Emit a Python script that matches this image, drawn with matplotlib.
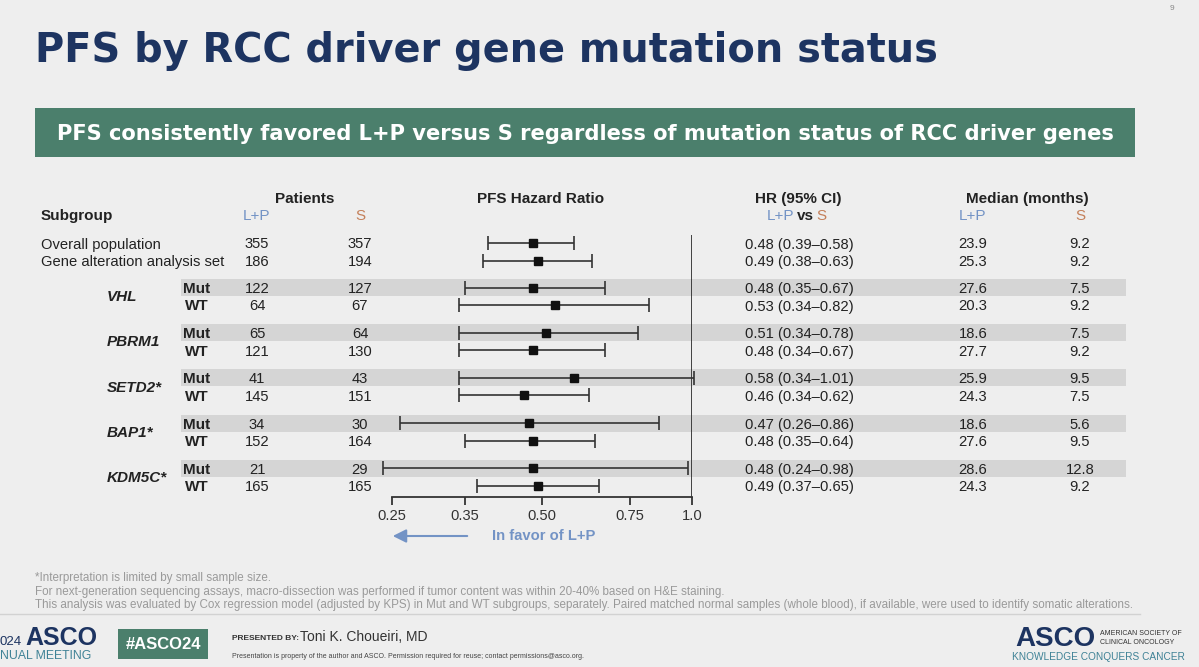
import matplotlib
matplotlib.use('Agg')
import matplotlib.pyplot as plt
from matplotlib.patches import Rectangle, FancyArrowPatch
from matplotlib.ticker import NullLocator, FixedLocator, FixedFormatter
import numpy as np

plt.rcParams['font.family'] = ['Liberation Sans', 'DejaVu Sans']

# ---------------- data ----------------
overall_labels = ["Overall population", "Gene alteration analysis set"]
genes = ["VHL", "PBRM1", "SETD2*", "BAP1*", "KDM5C*"]
statuses = ["Mut", "WT"]
n_lp = [355, 186, 122, 64, 65, 121, 41, 145, 34, 152, 21, 165]
n_s = [357, 194, 127, 67, 64, 130, 43, 151, 30, 164, 29, 165]
hr = [0.48, 0.49, 0.48, 0.53, 0.51, 0.48, 0.58, 0.46, 0.47, 0.48, 0.48, 0.49]
ci_lo = [0.39, 0.38, 0.35, 0.34, 0.34, 0.34, 0.34, 0.34, 0.26, 0.35, 0.24, 0.37]
ci_hi = [0.58, 0.63, 0.67, 0.82, 0.78, 0.67, 1.01, 0.62, 0.86, 0.64, 0.98, 0.65]
med_lp = [23.9, 25.3, 27.6, 20.3, 18.6, 27.7, 25.9, 24.3, 18.6, 27.6, 28.6, 24.3]
med_s = [9.2, 9.2, 7.5, 9.2, 7.5, 9.2, 9.5, 7.5, 5.6, 9.5, 12.8, 9.2]
x_ticks = [0.25, 0.35, 0.50, 0.75, 1.0]
x_tick_labels = ["0.25", "0.35", "0.50", "0.75", "1.0"]

footnotes = [
    "*Interpretation is limited by small sample size.",
    "For next-generation sequencing assays, macro-dissection was performed if tumor content was within 20-40% based on H&E staining.",
    "This analysis was evaluated by Cox regression model (adjusted by KPS) in Mut and WT subgroups, separately. Paired matched normal samples (whole blood), if available, were used to identify somatic alterations.",
]

# ---------------- styles ----------------
BG = '#eeeeee'
NAVY = '#1d3461'
GREEN = '#4b7f6c'
BLUE = '#7393c5'
ORANGE = '#c4805a'
BAND = '#d5d5d5'
TXT = '#222222'
GRAYTXT = '#9a9a9a'
TEAL = '#3f8296'

W, H = 1199, 667
fig = plt.figure(figsize=(W / 100, H / 100), dpi=100, facecolor=BG)
bg = fig.add_axes([0, 0, 1, 1])
bg.set_xlim(0, W)
bg.set_ylim(H, 0)
bg.axis('off')
bg.set_facecolor(BG)

# row layout (pixel positions of rows)
row_y = [243.0, 260.5]
for g in range(len(genes)):
    m = 287.5 + g * 45.2
    row_y += [m, m + 17.5]
row_y = np.array(row_y)

# header
bg.text(35, 62, "PFS by RCC driver gene mutation status", fontsize=28.7,
        fontweight='bold', family='DejaVu Sans', color=NAVY, ha='left', va='baseline')
bg.text(1172, 8, "9", fontsize=6, color='#888888', ha='center', va='center')
bg.add_patch(Rectangle((35, 108), 1100, 49, facecolor=GREEN, edgecolor='none'))
bg.text(585, 140.5, "PFS consistently favored L+P versus S regardless of mutation status of RCC driver genes",
        fontsize=15.1, fontweight='bold', family='DejaVu Sans', color='white', ha='center', va='baseline')

# bands for Mut rows
for i in range(2, len(row_y), 2):
    bg.add_patch(Rectangle((181, row_y[i] - 8.5), 945, 17, facecolor=BAND,
                           edgecolor='none', zorder=0))

FS = 10.6
HS = 11
# column headers
bg.text(305, 203, "Patients", fontsize=HS, fontweight='bold', color=TXT, ha='center', va='baseline')
bg.text(41, 220, "Subgroup", fontsize=HS, fontweight='bold', color=TXT, ha='left', va='baseline')
bg.text(257, 220, "L+P", fontsize=HS, color=BLUE, ha='center', va='baseline')
bg.text(360, 220, "S", fontsize=HS, color=ORANGE, ha='center', va='baseline')
bg.text(541, 203, "PFS Hazard Ratio", fontsize=HS, fontweight='bold', color=TXT, ha='center', va='baseline')
bg.text(798, 203, "HR (95% CI)", fontsize=HS, fontweight='bold', color=TXT, ha='center', va='baseline')
bg.text(794, 220, "L+P", fontsize=HS, color=BLUE, ha='right', va='baseline')
bg.text(805.5, 220, "vs", fontsize=HS, fontweight='bold', color=TXT, ha='center', va='baseline')
bg.text(816, 220, "S", fontsize=HS, color=ORANGE, ha='left', va='baseline')
bg.text(1027, 203, "Median (months)", fontsize=HS, fontweight='bold', color=TXT, ha='center', va='baseline')
bg.text(973, 220, "L+P", fontsize=HS, color=BLUE, ha='center', va='baseline')
bg.text(1080, 220, "S", fontsize=HS, color=ORANGE, ha='center', va='baseline')

# row labels
for i, lab in enumerate(overall_labels):
    bg.text(41, row_y[i] + 5.5, lab, fontsize=FS, color=TXT, ha='left', va='baseline')
for g, gene in enumerate(genes):
    ym = (row_y[2 + 2 * g] + row_y[3 + 2 * g]) / 2
    bg.text(107, ym + 5, gene, fontsize=HS, fontweight='bold', fontstyle='italic',
            color=TXT, ha='left', va='baseline')
    for k, st in enumerate(statuses):
        bg.text(197, row_y[2 + 2 * g + k] + 5.5, st, fontsize=HS, fontweight='bold',
                color=TXT, ha='center', va='baseline')

for i in range(len(row_y)):
    yb = row_y[i] + 5.5
    bg.text(257, yb, str(n_lp[i]), fontsize=FS, color=TXT, ha='center', va='baseline')
    bg.text(360, yb, str(n_s[i]), fontsize=FS, color=TXT, ha='center', va='baseline')
    bg.text(745, yb, f"{hr[i]:.2f} ({ci_lo[i]:.2f}\u2013{ci_hi[i]:.2f})", fontsize=FS,
            color=TXT, ha='left', va='baseline')
    bg.text(973, yb, f"{med_lp[i]:.1f}", fontsize=FS, color=TXT, ha='center', va='baseline')
    bg.text(1080, yb, f"{med_s[i]:.1f}", fontsize=FS, color=TXT, ha='center', va='baseline')

# ---------------- forest axes ----------------
ax = fig.add_axes([392 / W, 0, 300 / W, 1])
ax.set_xscale('log')
ax.set_xlim(0.25, 1.0)
ax.set_ylim(H, 0)
ax.patch.set_visible(False)
for s in ['top', 'left', 'right']:
    ax.spines[s].set_visible(False)
ax.spines['bottom'].set_position(('data', 497))
ax.spines['bottom'].set_color('#333333')
ax.spines['bottom'].set_linewidth(1.3)
ax.xaxis.set_major_locator(FixedLocator(x_ticks))
ax.xaxis.set_major_formatter(FixedFormatter(x_tick_labels))
ax.xaxis.set_minor_locator(NullLocator())
ax.tick_params(axis='x', direction='out', length=5.5, width=1.3, color='#333333',
               labelsize=FS, labelcolor='#333333', pad=3)
ax.set_yticks([])

hr_a = np.array(hr)
lo_a = np.array(ci_lo)
hi_a = np.array(ci_hi)
ax.plot([1.0, 1.0], [235, 497], color='#333333', lw=1.3, solid_capstyle='butt')
ax.errorbar(hr_a, row_y, xerr=[hr_a - lo_a, hi_a - hr_a], fmt='s', color='#111111',
            ecolor='#333333', ms=6, capsize=5, elinewidth=1.2, capthick=1.2,
            clip_on=False, zorder=3)

# "In favor of L+P"
bg.add_patch(FancyArrowPatch((470, 536), (390, 536), arrowstyle='-|>,head_length=8,head_width=4',
                             color=BLUE, lw=1.5, mutation_scale=1))
bg.text(492, 540.5, "In favor of L+P", fontsize=FS, fontweight='bold', color=BLUE,
        ha='left', va='baseline')

# footnotes
for k, line in enumerate(footnotes):
    bg.text(35, 581.5 + k * 13.2, line, fontsize=8.4, color=GRAYTXT, ha='left', va='baseline')
bg.plot([0, 1140], [614, 614], color='#d2d2d2', lw=1)

# footer left logo (visible part at the slide edge, as in the original)
bg.text(0, 645, "024", fontsize=9.5, color=NAVY, ha='left', va='baseline')
bg.text(25, 645, "ASCO", fontsize=18, fontweight='bold', color=NAVY, ha='left', va='baseline')
bg.text(0, 659, "NUAL MEETING", fontsize=8.8, color=TEAL, ha='left', va='baseline')
bg.add_patch(Rectangle((118, 629), 90, 30, facecolor=GREEN, edgecolor='none'))
bg.text(163, 649, "#ASCO24", fontsize=12, fontweight='bold', color='white', ha='center', va='baseline')
bg.text(232, 640, "PRESENTED BY:", fontsize=6, fontweight='bold', color='#333333', ha='left', va='baseline')
bg.text(300, 641, "Toni K. Choueiri, MD", fontsize=10, color='#333333', ha='left', va='baseline')
bg.text(232, 658, "Presentation is property of the author and ASCO. Permission required for reuse; contact permissions@asco.org.",
        fontsize=5, color='#444444', ha='left', va='baseline')

# footer right logo
bg.text(1015, 646, "ASCO", fontsize=20, fontweight='bold', color=NAVY, ha='left', va='baseline')
bg.text(1100, 635, "AMERICAN SOCIETY OF", fontsize=5, color='#333333', ha='left', va='baseline')
bg.text(1100, 644, "CLINICAL ONCOLOGY", fontsize=5, color='#333333', ha='left', va='baseline')
bg.text(1098, 660, "KNOWLEDGE CONQUERS CANCER", fontsize=7.3, color=TEAL, ha='center', va='baseline')

fig.savefig('out.png', dpi=100, facecolor=BG)
